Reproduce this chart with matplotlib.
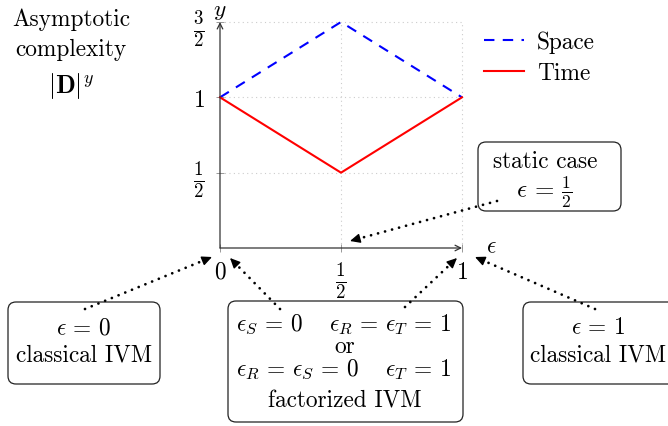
import matplotlib
matplotlib.use("Agg")
import matplotlib.pyplot as plt
from matplotlib.patches import FancyBboxPatch
from matplotlib.lines import Line2D
from matplotlib.transforms import IdentityTransform
import numpy as np

plt.rcParams['mathtext.fontset'] = 'cm'
plt.rcParams['font.family'] = ['cmr10', 'DejaVu Serif']
plt.rcParams['axes.unicode_minus'] = False

eps = [0, 0.5, 1]
space = [1, 1.5, 1]
time_ = [1, 0.5, 1]
xticks = [0, 0.5, 1]
xticklabels = ['$0$', r'$\frac{1}{2}$', '$1$']
yticks = [0.5, 1, 1.5]
yticklabels = [r'$\frac{1}{2}$', '$1$', r'$\frac{3}{2}$']

FS = 16.8
FRAC = 19.5
W, H = 668, 427
fig = plt.figure(figsize=(W/100, H/100), dpi=100)
ax = fig.add_axes([220/W, 1-249/H, 242/W, 226/H])
ax.set_xlim(0, 1)
ax.set_ylim(0, 1.5)
for s in ax.spines.values():
    s.set_visible(False)

for v in [0.5, 1]:
    ax.axvline(v, color='#cccccc', ls=(0, (1, 3)), lw=0.8, clip_on=False, zorder=0)
for v in [0.5, 1, 1.5]:
    ax.axhline(v, color='#cccccc', ls=(0, (1, 3)), lw=0.8, clip_on=False, zorder=0)

ax.plot(eps, space, color='blue', ls=(0, (5, 4)), lw=1.5, label='Space', clip_on=False)
ax.plot(eps, time_, color='red', lw=1.5, label='Time', clip_on=False)

# axes with arrows
ax.annotate('', xy=(1, 0), xytext=(0, 0), xycoords='axes fraction',
            arrowprops=dict(arrowstyle='->', lw=0.9, color='#333333', shrinkA=0, shrinkB=0))
ax.annotate('', xy=(0, 1), xytext=(0, 0), xycoords='axes fraction',
            arrowprops=dict(arrowstyle='->', lw=0.9, color='#333333', shrinkA=0, shrinkB=0))

ax.set_xticks(xticks)
ax.set_xticklabels(xticklabels, fontsize=FS)
ax.set_yticks(yticks)
ax.set_yticklabels(yticklabels, fontsize=FS)
for lab in ax.get_xticklabels() + ax.get_yticklabels():
    if 'frac' in lab.get_text():
        lab.set_fontsize(FRAC)
ax.tick_params(direction='inout', length=6, width=0.6, color='#888888')
ax.tick_params(axis='x', pad=6)
ax.tick_params(axis='y', pad=8)

fig.text(220/W, 1-11/H, '$y$', fontsize=FS, ha='center', va='center')
fig.text(491/W, 1-247/H, r'$\epsilon$', fontsize=FS, ha='center', va='center')

leg = ax.legend(loc='upper left', bbox_to_anchor=((484-220)/242, (249-32)/226), frameon=False,
                fontsize=FS, handlelength=1.7, handletextpad=0.56, labelspacing=0.38,
                borderpad=0, borderaxespad=0)

fig.text(71/W, 1-20/H, 'Asymptotic', fontsize=FS, ha='center', va='center')
fig.text(71/W, 1-50/H, 'complexity', fontsize=FS, ha='center', va='center')
fig.text(71/W, 1-86/H, r'$|\mathbf{D}|^y$', fontsize=18.5, ha='center', va='center')

def box(x0, y0, x1, y1):
    p = FancyBboxPatch((x0, H - y1), x1 - x0, y1 - y0,
                       boxstyle='round,pad=0,rounding_size=8',
                       transform=IdentityTransform(), fc='white', ec='#222222', lw=0.9, zorder=1)
    fig.add_artist(p)

def t(x, y, s, fs=FS, **kw):
    fig.text(x/W, 1-y/H, s, ha='center', va='center', fontsize=fs, **kw)

box(8, 303, 160, 385)
t(84, 328, r'$\epsilon\,=\,0$')
t(84, 355, 'classical IVM')

box(228, 302, 463, 423)
t(344, 325, r'$\epsilon_S\,=\,0\quad\ \epsilon_R\,=\,\epsilon_T\,=\,1$')
t(345, 347, 'or')
t(344, 370, r'$\epsilon_R\,=\,\epsilon_S\,=\,0\quad\ \epsilon_T\,=\,1$')
t(345, 401, 'factorized IVM')

box(523, 303, 690, 385)
t(598, 328, r'$\epsilon\,=\,1$')
t(598, 355, 'classical IVM')

box(478, 143, 621, 212)
t(545, 162, 'static case')
t(544, 192, r'$\epsilon\,=\,\frac{1}{2}$', fs=18)

def arrow(x0, y0, x1, y1):
    p0 = np.array([x0, H - y0], float)
    p1 = np.array([x1, H - y1], float)
    d = (p1 - p0) / np.linalg.norm(p1 - p0)
    pm = p1 - d * 5
    fig.add_artist(Line2D([p0[0], pm[0]], [p0[1], pm[1]], transform=IdentityTransform(),
                          color='black', lw=2.0, ls=(0, (0.01, 2.6)), dash_capstyle='round',
                          zorder=3))
    ax.annotate('', xy=(p1[0], p1[1]), xytext=(pm[0], pm[1]), xycoords=IdentityTransform(),
                textcoords=IdentityTransform(), annotation_clip=False,
                arrowprops=dict(arrowstyle='-|>,head_width=0.28,head_length=0.6', lw=1.0,
                                color='black', shrinkA=0, shrinkB=0))

arrow(85, 310, 212, 258)
arrow(280, 310, 230, 259)
arrow(405, 308, 457, 259)
arrow(595, 310, 475, 258)
arrow(497, 202, 350, 242)

fig.savefig('out.png', dpi=100)
